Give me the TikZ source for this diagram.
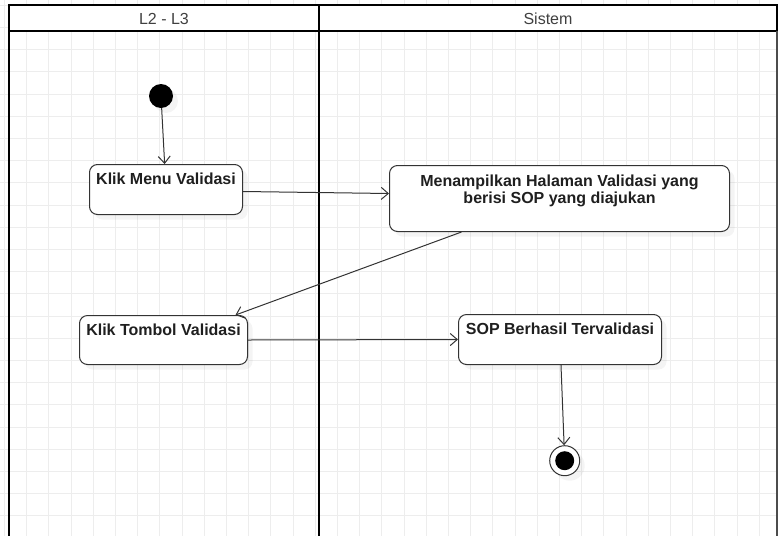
\documentclass[tikz,border=0pt]{standalone}
\usepackage{fontspec}
\setmainfont{Liberation Sans}
\usetikzlibrary{arrows.meta,shadows}
\definecolor{gridgray}{HTML}{EDEDED}
\definecolor{inkgray}{HTML}{333333}
\tikzset{%
   gridline/.style={draw=gridgray, line width=1pt},%
   lane/.style={line width=2pt},%
   lanehead/.style={font=\fontsize{16}{19}\selectfont, text=black!75, inner sep=0pt},%
   actbox/.style={draw=inkgray, fill=white, rounded corners=8pt, line width=1pt,
      anchor=north west, inner sep=0pt,
      drop shadow={shadow xshift=5pt, shadow yshift=-5pt, opacity=0.09}},%
   acttext/.style={anchor=north, inner sep=0pt, align=center, text=black!88,
      font=\fontsize{16}{16.5}\selectfont\bfseries},%
   startdot/.style={circle, fill=black, minimum size=24pt, inner sep=0pt,
      drop shadow={shadow xshift=5pt, shadow yshift=-5pt, opacity=0.09}},%
   enddot/.style={circle, draw=inkgray, fill=white, minimum size=30pt, inner sep=0pt,
      line width=1pt, drop shadow={shadow xshift=5pt, shadow yshift=-5pt, opacity=0.09}},%
   flow/.style={draw=inkgray, line width=1pt, -{Straight Barb[length=7pt,width=12pt]}}%
}
\begin{document}
\begin{tikzpicture}[x=1pt, y=-1pt]%
      \useasboundingbox (0,0) rectangle (778,536);%
      % ~ grid
      % draw vertical
      \foreach \k in {0,...,34}%
         {%
            \draw[gridline] ({4.5+22.2*\k},0) -- ({4.5+22.2*\k},536);%
         }%
      % draw horizontal
      \foreach \k in {0,...,23}%
         {%
            \draw[gridline] (0,{5.3+22.2*\k}) -- (778,{5.3+22.2*\k});%
         }%
      % ~ lanes
      \draw[lane, fill=white] (9,5) rectangle (319,31);%
      \draw[lane, fill=white] (319,5) rectangle (777,31);%
      \node[lanehead] (headuser) at (164,19) {L2 - L3};%
      \node[lanehead] (headsys) at (548,19) {Sistem};%
      \draw[lane] (9,31) -- (9,536);%
      \draw[lane] (319,31) -- (319,536);%
      \draw[line width=1.5pt, black!70] (777,31) -- (777,536);%
      % ~ activities
      \node[startdot] (start) at (161,96) {};%
      \node[actbox, minimum width=153pt, minimum height=50pt] (menu) at (89,164) {};%
      \node[acttext] (menutext) at ([yshift=-9pt]menu.north) {Klik Menu Validasi};%
      \node[actbox, minimum width=340pt, minimum height=66pt] (tampil) at (389,165) {};%
      \node[acttext] (tampiltext) at ([yshift=-10pt]tampil.north)
         {Menampilkan Halaman Validasi yang\\berisi SOP yang diajukan};%
      \node[actbox, minimum width=168pt, minimum height=49pt] (tombol) at (79,315) {};%
      \node[acttext] (tomboltext) at ([yshift=-8.5pt]tombol.north) {Klik Tombol Validasi};%
      \node[actbox, minimum width=203pt, minimum height=50pt] (sop) at (458,314) {};%
      \node[acttext] (soptext) at ([yshift=-9pt]sop.north) {SOP Berhasil Tervalidasi};%
      \node[enddot] (finish) at (564.7,460.7) {};%
      \fill (finish) circle (9.5);%
      % ~ flows
      \draw[flow] (start) -- (menu);%
      \draw[flow] ([yshift=-2pt]menu.east) -- ([yshift=5pt]tampil.west);%
      \draw[flow] ([xshift=-98pt]tampil.south) -- ([xshift=72pt]tombol.north);%
      \draw[flow] (tombol.east) -- (sop.west);%
      \draw[flow] (sop) -- (finish);%
         %
   \end{tikzpicture}
\end{document}
